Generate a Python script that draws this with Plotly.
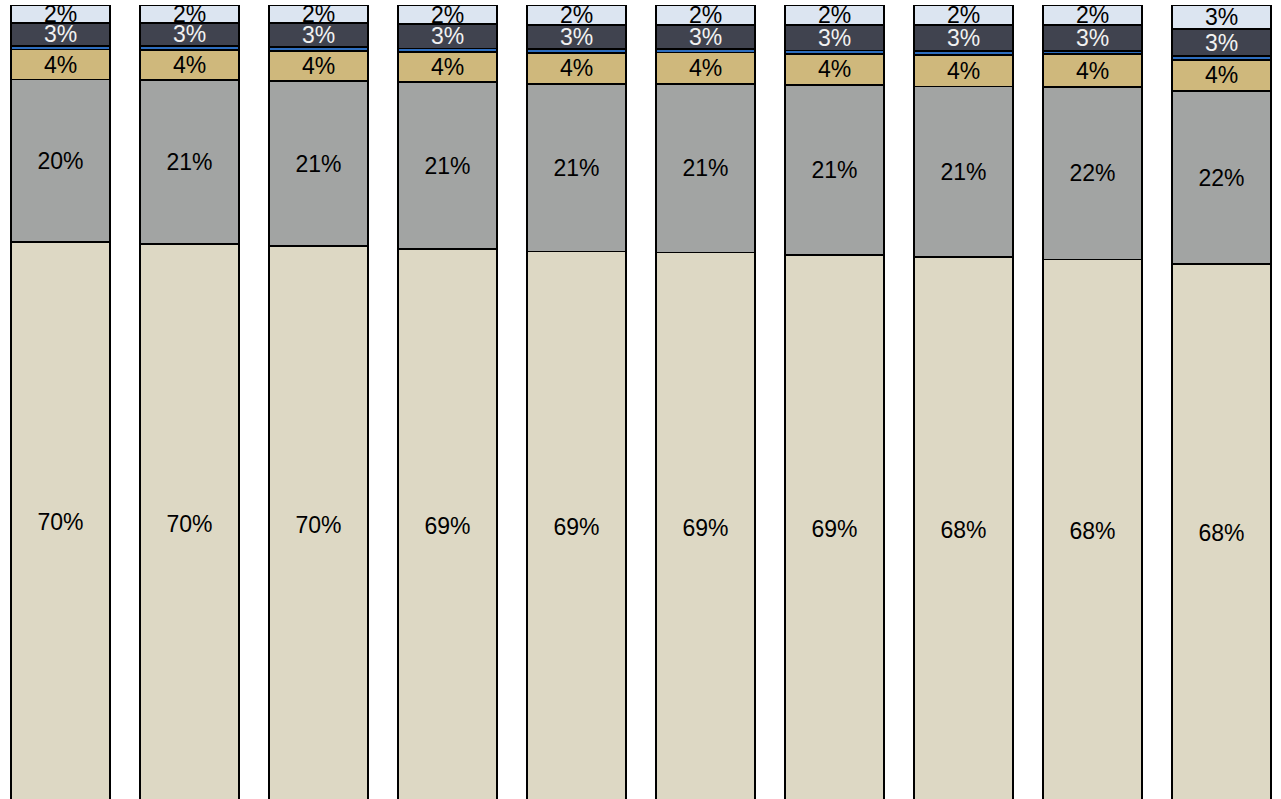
import plotly.graph_objects as go

categories = ["1", "2", "3", "4", "5", "6", "7", "8", "9", "10"]

# shares (%) from bottom to top
beige = [70.34, 70.05, 69.79, 69.42, 69.13, 69.00, 68.71, 68.42, 68.13, 67.58]
gray = [20.33, 20.61, 20.68, 20.93, 21.03, 21.15, 21.32, 21.40, 21.59, 21.64]
tan = [3.76, 3.76, 3.82, 3.82, 3.88, 3.92, 3.88, 3.95, 4.14, 3.95]
blue = [0.44, 0.48, 0.44, 0.40, 0.44, 0.43, 0.44, 0.50, 0.41, 0.44]
dark = [2.94, 2.88, 3.05, 3.05, 3.05, 3.05, 3.20, 3.28, 3.28, 3.38]
light = [2.19, 2.22, 2.22, 2.38, 2.47, 2.45, 2.45, 2.45, 2.45, 3.00]

series = [
    ("beige", beige, "#DDD8C4", "#000000", True),
    ("gray", gray, "#A2A4A3", "#000000", True),
    ("tan", tan, "#CFB87C", "#000000", True),
    ("blue", blue, "#2E6EBF", "#000000", False),
    ("dark", dark, "#40434F", "#F2F2F2", True),
    ("light", light, "#DCE5F1", "#000000", True),
]

fig = go.Figure()
for name, vals, color, tcolor, show in series:
    fig.add_trace(go.Bar(
        x=categories,
        y=vals,
        name=name,
        marker=dict(color=color, line=dict(color="#000000", width=1.6)),
        texttemplate="%{y:.0f}%" if show else None,
        textposition="inside" if show else "none",
        insidetextanchor="middle",
        constraintext="none",
        textangle=0,
        textfont=dict(family="Liberation Sans, Arial, sans-serif", size=23, color=tcolor),
        cliponaxis=False,
        hoverinfo="skip",
    ))

fig.update_layout(
    barmode="stack",
    width=1281,
    height=799,
    margin=dict(l=0, r=0, t=5, b=0, pad=0),
    paper_bgcolor="#FFFFFF",
    plot_bgcolor="#FFFFFF",
    showlegend=False,
    bargap=0.2326,
    xaxis=dict(type="category", range=[-0.469, 9.461], visible=False),
    yaxis=dict(range=[0.5, 100.03], visible=False),
)

fig.write_html(
    "out.html",
    config={"displayModeBar": False},
    post_script="document.body.style.margin='0';",
)
